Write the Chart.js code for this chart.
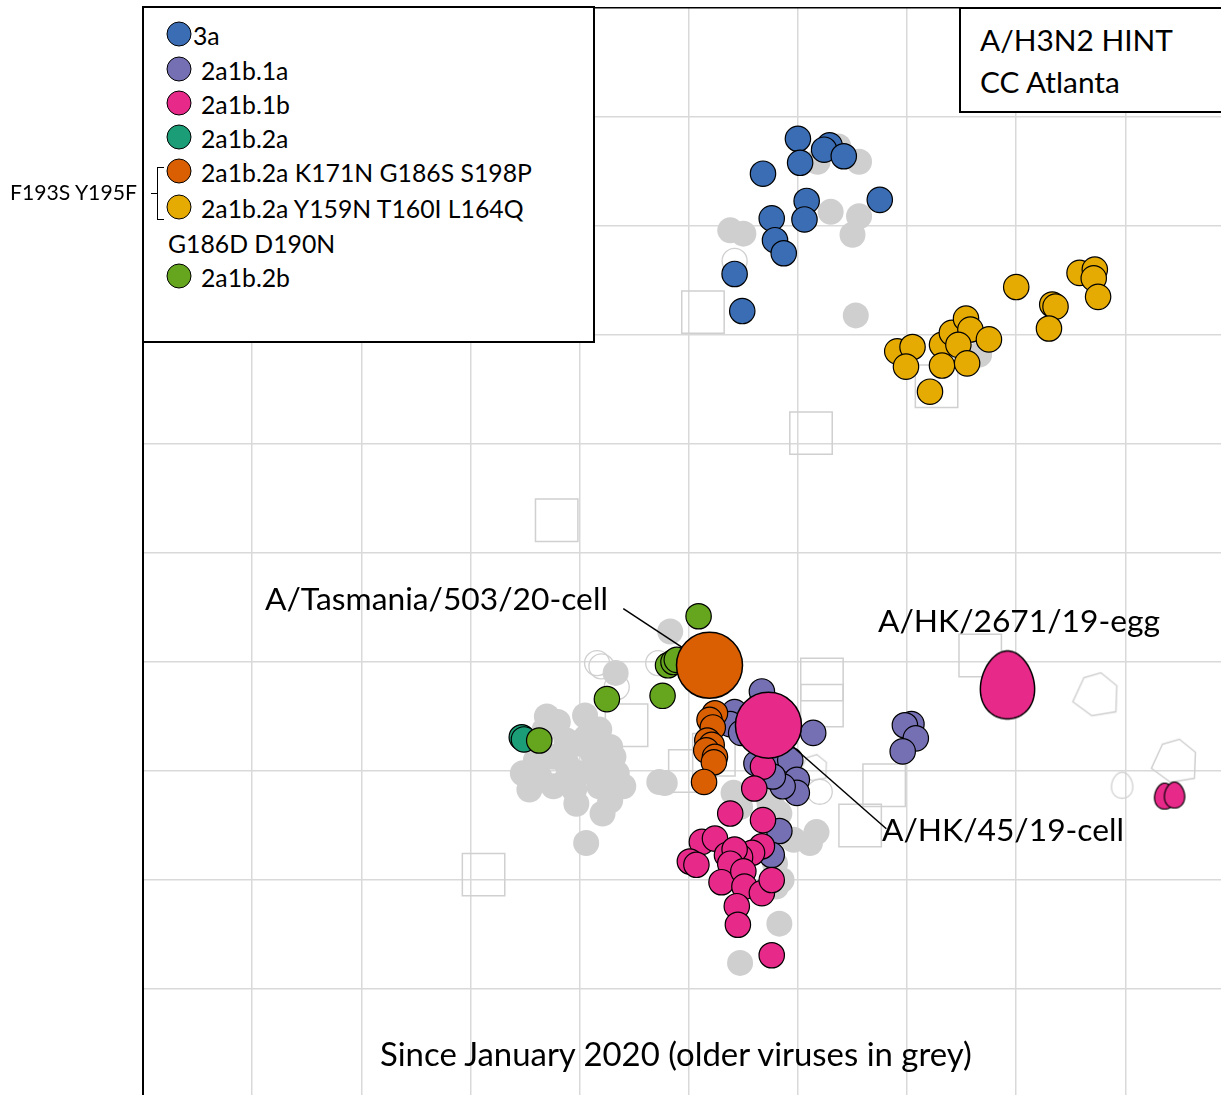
<!DOCTYPE html>
<html><head><meta charset="utf-8">
<script src="https://cdn.jsdelivr.net/npm/chart.js@4.4.0/dist/chart.umd.min.js"></script>
<style>
html,body{margin:0;padding:0;background:#fff;}
#wrap{position:relative;width:1221px;height:1095px;overflow:hidden;font-family:Lato,'Open Sans',sans-serif;color:#000;}
#c{position:absolute;left:0;top:0;}
.t{position:absolute;white-space:nowrap;line-height:1;transform:translateY(-50%);}
.box{position:absolute;background:#fff;border:2px solid #000;box-sizing:border-box;}
.dot{position:absolute;width:25px;height:25px;border-radius:50%;border:1.5px solid #000;box-sizing:border-box;transform:translate(-50%,-50%);}
.br{position:absolute;background:#000;}
</style></head>
<body><div id="wrap">
<canvas id="c" width="1221" height="1095"></canvas>
<div class="box" style="left:142px;top:6px;width:453px;height:337px;"></div>
<div class="box" style="left:959px;top:7px;width:270px;height:106px;"></div>
<div id="texts"></div>
</div>
<script>
// ---------- data (antigenic map units; grid step = 1 unit) ----------
const clade3a = [[6.29,1.26],[6.00,1.20],[6.02,1.42],[6.24,1.30],[6.42,1.36],[5.68,1.52],[6.08,1.77],[6.06,1.94],[5.76,1.93],[5.79,2.13],[5.87,2.25],[5.42,2.44],[5.49,2.78],[6.75,1.76]];
const clade1a = [[5.67,6.27],[5.42,6.46],[5.38,6.57],[5.48,6.65],[6.14,6.65],[5.65,6.94],[5.83,6.96],[5.93,6.90],[5.99,7.08],[5.99,7.20],[5.86,7.14],[5.77,7.05],[5.62,6.93],[5.83,7.55],[5.76,7.77],[7.04,6.57],[6.98,6.58],[7.08,6.70],[6.96,6.82]];
const clade1b = [[5.68,6.96],[5.60,7.16],[5.38,7.39],[5.68,7.45],[5.67,7.69],[5.12,7.65],[5.24,7.62],[5.01,7.83],[5.07,7.86],[5.35,7.77],[5.58,7.75],[5.47,7.79],[5.42,7.72],[5.38,7.85],[5.30,8.02],[5.50,7.92],[5.51,8.06],[5.67,8.12],[5.76,8.00],[5.44,8.24],[5.45,8.41],[5.76,8.69]];
const clade1bEgg = [[9.36,7.23],[9.45,7.22]];
const clade2a = [[3.47,6.69],[3.49,6.71]];
const clade2aK171N = [[5.24,6.47],[5.19,6.53],[5.22,6.60],[5.17,6.72],[5.21,6.76],[5.16,6.81],[5.24,6.87],[5.23,6.92],[5.14,7.10]];
const clade2aY159N = [[6.91,3.15],[7.05,3.11],[6.99,3.29],[7.21,3.52],[7.32,3.09],[7.32,3.28],[7.41,2.98],[7.54,2.85],[7.58,2.95],[7.47,3.09],[7.55,3.26],[7.75,3.04],[8.00,2.56],[8.33,2.72],[8.36,2.74],[8.30,2.94],[8.58,2.43],[8.72,2.40],[8.71,2.48],[8.75,2.65]];
const clade2b = [[5.09,5.58],[4.81,6.03],[4.86,6.00],[4.89,5.98],[4.76,6.31],[4.25,6.34],[3.63,6.72]];
const olderViruses = [[6.18,1.41],[6.37,1.27],[6.56,1.41],[6.30,1.87],[6.56,1.91],[6.50,2.08],[5.38,2.04],[5.50,2.07],[6.53,2.82],[7.66,3.18],
 [4.83,5.72],[4.33,6.10],[4.05,6.49],[3.70,6.50],[3.80,6.55],[3.88,6.72],[3.97,6.75],[4.06,6.69],[4.28,6.78],[4.31,6.87],[3.48,7.02],[3.63,7.05],[3.76,7.14],[3.88,7.08],[4.00,7.02],[4.15,6.96],[4.40,7.14],[3.97,7.30],[4.21,7.39],[4.06,7.66],[4.73,7.10],[4.78,7.11],[4.18,7.14],[4.34,7.02],[3.76,6.87],[3.60,6.90],[4.12,6.84],[3.88,6.93],[3.68,6.62],[4.18,6.62],[3.95,7.17],[3.54,7.17],[4.28,7.27],
 [5.41,7.20],[5.47,7.33],[5.74,7.30],[5.83,7.39],[5.77,7.33],[6.11,7.66],[5.96,7.63],[5.83,8.40],[5.47,8.76],[5.85,8.00],[5.80,8.06],[5.79,7.85],[6.17,7.56],[5.74,7.27]];
const olderOpenCircles = [[5.42,2.32],[4.16,6.01],[4.20,6.04],[4.72,6.01],[4.34,6.23],[6.20,7.19]];
const olderOpenEgg = [[8.97,7.13]];
const olderPolygons = [[8.72,6.30],[9.44,6.91]];
const olderSmallPolygon = [[6.14,6.97]];
const sera = [[5.13,2.79],[6.12,3.90],[7.27,3.47],[3.79,4.70],[3.12,7.95],[7.67,5.94],[6.22,6.16],[6.22,6.40],[6.79,7.13],[6.57,7.50],[4.43,6.58],[5.01,7.00],[5.23,6.85]];
const refTasmania = [[5.19,6.03]];
const refHK45 = [[5.73,6.58]];
const refHK2671 = [[7.92,6.21]];
const leaderTasmania = [[4.40,5.51],[5.19,6.03]];
const leaderHK45 = [[5.73,6.58],[6.81,7.53]];
const xRange = [0, 9.876];
const yRange = [0, 9.972];

// ---------- styles ----------
const COL = {c3a:'#3a6db4', c1a:'#7570b3', c1b:'#e7298a', c2a:'#1b9e77', k171:'#d95f02', y159:'#e6ab02', c2b:'#66a61e', grey:'#cfcfcf', line:'#d0d0d0'};

function eggCanvas(w,h,fill,stroke,lw){
  const c=document.createElement('canvas');
  c.width=Math.ceil(w+lw*2+4); c.height=Math.ceil(h+lw*2+4);
  const g=c.getContext('2d'); const cx=c.width/2, cy=c.height/2, a=w/2/1.04, b=h/2;
  g.beginPath();
  for(let i=0;i<=120;i++){const t=i/120*2*Math.PI, s=Math.sin(t);
    const x=cx+a*Math.cos(t)*(1+0.13*s), y=cy+b*s; i?g.lineTo(x,y):g.moveTo(x,y);}
  g.closePath();
  if(fill){g.fillStyle=fill;g.fill();}
  g.lineWidth=lw;g.strokeStyle=stroke;g.stroke();
  return c;
}
function polyCanvas(scale,stroke,lw){
  const pts=[[-11,-17],[6,-22],[22,-9],[21,17],[-3,21],[-22,7]];
  const s=Math.ceil(48*scale+lw*2+4);
  const c=document.createElement('canvas'); c.width=s;c.height=s;
  const g=c.getContext('2d'); g.beginPath();
  pts.forEach((p,i)=>{const x=s/2+p[0]*scale,y=s/2+p[1]*scale; i?g.lineTo(x,y):g.moveTo(x,y);});
  g.closePath(); g.lineWidth=lw; g.strokeStyle=stroke; g.stroke();
  return c;
}
const eggBig=eggCanvas(56,68,COL.c1b,'#000',1.5);
const eggSmall=eggCanvas(21,26,COL.c1b,'#000',1.2);
const eggOpen=eggCanvas(22,26,null,COL.line,1.3);
const polyBig=polyCanvas(1,COL.line,1.5);
const polySmall=polyCanvas(0.6,COL.line,1.3);

const pts=a=>a.map(p=>({x:p[0],y:p[1]}));
function ds(data,opts){return Object.assign({data:pts(data),pointRadius:12.7,borderWidth:1.2,pointBorderColor:'#000',showLine:false},opts);}

const datasets=[
  ds(sera,{order:20,pointStyle:'rect',pointRadius:30,pointBackgroundColor:'rgba(0,0,0,0)',pointBorderColor:COL.line,pointBorderWidth:1.5}),
  ds(olderPolygons,{order:19,pointStyle:polyBig}),
  ds(olderSmallPolygon,{order:19,pointStyle:polySmall}),
  ds(olderOpenEgg,{order:19,pointStyle:eggOpen}),
  ds(olderOpenCircles,{order:18,pointRadius:12.5,pointBackgroundColor:'rgba(0,0,0,0)',pointBorderColor:COL.line,pointBorderWidth:1.3}),
  ds(olderViruses,{order:17,pointRadius:13,pointBackgroundColor:COL.grey,pointBorderWidth:0}),
  ds(clade3a,{order:12,pointBackgroundColor:COL.c3a}),
  ds(clade2aY159N,{order:12,pointBackgroundColor:COL.y159}),
  ds(clade2b,{order:11,pointBackgroundColor:COL.c2b}),
  ds(clade2a,{order:11,pointBackgroundColor:COL.c2a}),
  ds(clade1a,{order:10,pointBackgroundColor:COL.c1a}),
  ds(clade2aK171N,{order:9,pointBackgroundColor:COL.k171}),
  ds(clade1b,{order:8,pointBackgroundColor:COL.c1b}),
  ds(clade1bEgg,{order:8,pointStyle:eggSmall}),
  {type:'line',data:pts(leaderTasmania),order:5,borderColor:'#000',borderWidth:1.5,pointRadius:0,fill:false},
  {type:'line',data:pts(leaderHK45),order:5,borderColor:'#000',borderWidth:1.5,pointRadius:0,fill:false},
  ds(refTasmania,{order:2,pointRadius:33,pointBackgroundColor:COL.k171,pointBorderWidth:1.5}),
  ds(refHK45,{order:2,pointRadius:33,pointBackgroundColor:COL.c1b,pointBorderWidth:1.5}),
  ds(refHK2671,{order:2,pointStyle:eggBig})
];
datasets.forEach(d=>{ if(d.pointBorderWidth===undefined && d.type!=='line') d.pointBorderWidth=1.2; });

new Chart(document.getElementById('c'),{
  type:'scatter',
  data:{datasets},
  options:{
    responsive:false,animation:false,events:[],devicePixelRatio:1,
    layout:{autoPadding:false,padding:{left:143,top:8,right:0,bottom:0}},
    plugins:{legend:{display:false},tooltip:{enabled:false}},
    scales:{
      x:{type:'linear',min:xRange[0],max:xRange[1],ticks:{display:false,stepSize:1,includeBounds:false},
         grid:{drawTicks:false,lineWidth:1.5,color:c=>c.tick&&c.tick.value===0?'rgba(0,0,0,0)':'#d9d9d9'},border:{display:false}},
      y:{type:'linear',reverse:true,min:yRange[0],max:yRange[1],ticks:{display:false,stepSize:1,includeBounds:false},
         grid:{drawTicks:false,lineWidth:1.5,color:c=>c.tick&&c.tick.value===0?'#000':'#d9d9d9'},border:{display:true,color:'#000',width:2}}
    }
  }
});

// ---------- text overlay ----------
const legendRows=[
  {label:'3a',color:COL.c3a,cy:34,tx:193},
  {label:'2a1b.1a',color:COL.c1a,cy:69,tx:201},
  {label:'2a1b.1b',color:COL.c1b,cy:103,tx:201},
  {label:'2a1b.2a',color:COL.c2a,cy:137,tx:201},
  {label:'2a1b.2a K171N G186S S198P',color:COL.k171,cy:171,tx:201},
  {label:'2a1b.2a Y159N T160I L164Q',color:COL.y159,cy:207,tx:201},
  {label:'G186D D190N',color:null,cy:242,tx:168},
  {label:'2a1b.2b',color:COL.c2b,cy:276,tx:201}
];
const wrap=document.getElementById('texts');
function addText(str,left,cy,size){const d=document.createElement('div');d.className='t';d.textContent=str;
  d.style.left=left+'px';d.style.top=cy+'px';d.style.fontSize=size+'px';wrap.appendChild(d);return d;}
function fitSize(str,target){const d=addText(str,0,-500,100);const w=d.getBoundingClientRect().width;d.remove();return 100*target/w;}

const legSize=fitSize('2a1b.2a K171N G186S S198P',331);
legendRows.forEach(r=>{
  if(r.color){const m=document.createElement('div');m.className='dot';m.style.left='179px';m.style.top=r.cy+'px';m.style.background=r.color;wrap.appendChild(m);}
  addText(r.label,r.tx,r.cy+2,legSize);
});
addText('F193S Y195F',10,193,fitSize('F193S Y195F',127));
// bracket
[['157px','167px','1.3px','53px'],['157px','167px','7px','1.3px'],['157px','219px','7px','1.3px'],['151px','193px','6px','1.3px']].forEach(b=>{
  const e=document.createElement('div');e.className='br';e.style.left=b[0];e.style.top=b[1];e.style.width=b[2];e.style.height=b[3];wrap.appendChild(e);});

const boxSize=fitSize('A/H3N2 HINT',193);
addText('A/H3N2 HINT',980,40,boxSize);
addText('CC Atlanta',980,82,boxSize);
const annSize=fitSize('A/Tasmania/503/20-cell',343);
addText('A/Tasmania/503/20-cell',265,599,annSize);
addText('A/HK/2671/19-egg',878,621,annSize);
addText('A/HK/45/19-cell',882,830,annSize);
addText('Since January 2020 (older viruses in grey)',380,1054,fitSize('Since January 2020 (older viruses in grey)',592));
</script>
</body></html>
